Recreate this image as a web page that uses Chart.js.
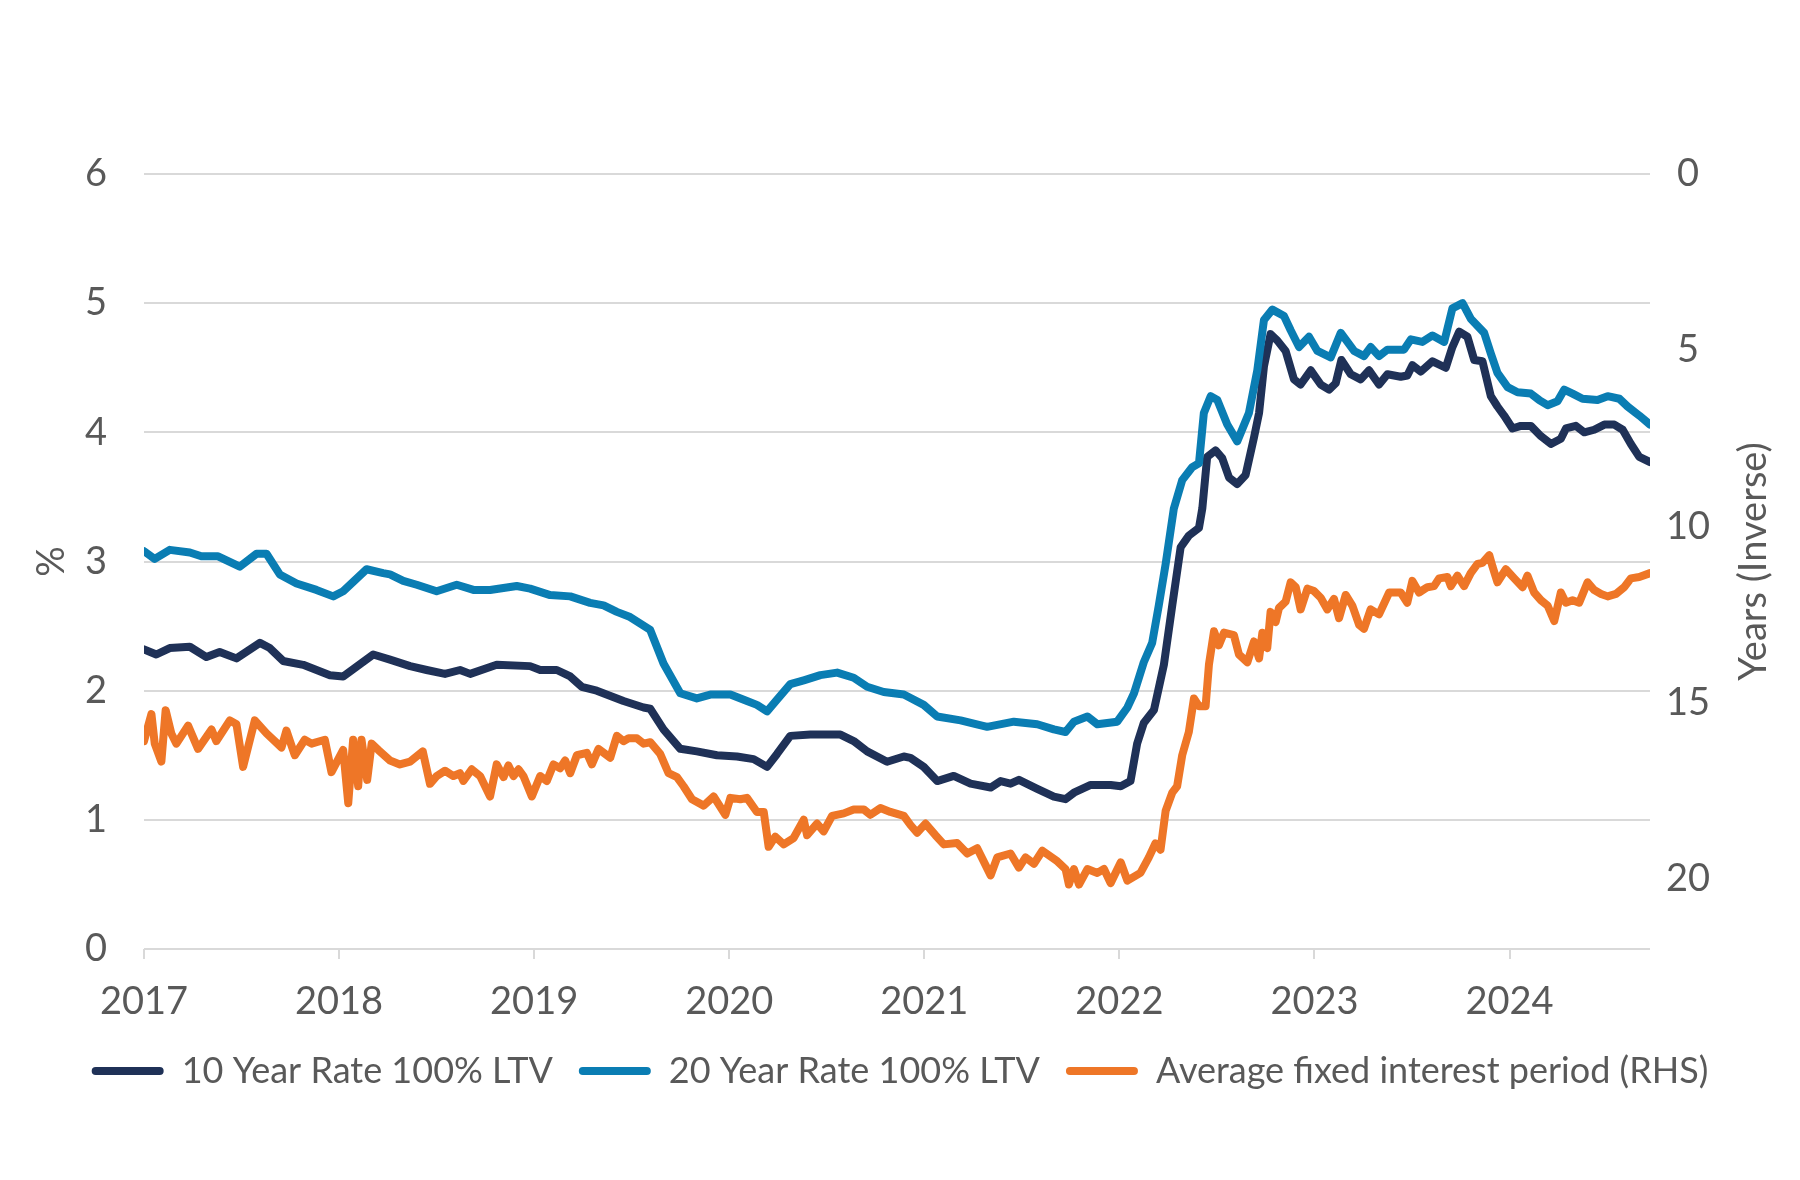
<!DOCTYPE html>
<html lang="en">
<head>
<meta charset="utf-8">
<title>Mortgage rates vs average fixed interest period</title>
<script src="https://cdn.jsdelivr.net/npm/chart.js@4.4.1/dist/chart.umd.min.js"></script>
<style>
  * { margin: 0; padding: 0; box-sizing: border-box; }
  body { width: 1800px; height: 1180px; background: #fff; overflow: hidden; }
  .wrap { position: relative; width: 1800px; height: 1180px; }
</style>
</head>
<body>
<div class="wrap"><canvas id="chart"></canvas></div>
<script>
// dates are decimal years
const navyDates = [2017.00, 2017.063, 2017.132, 2017.235, 2017.320, 2017.388, 2017.474, 2017.594, 2017.645, 2017.713, 2017.816, 2017.953, 2018.021, 2018.175,
  2018.261, 2018.364, 2018.449, 2018.543, 2018.620, 2018.672, 2018.808, 2018.979, 2019.031, 2019.116, 2019.185, 2019.244, 2019.321, 2019.458, 2019.561,
  2019.595, 2019.663, 2019.749, 2019.834, 2019.937, 2020.040, 2020.125, 2020.194, 2020.245, 2020.313, 2020.416, 2020.570, 2020.638, 2020.707, 2020.809, 2020.895,
  2020.929, 2020.997, 2021.066, 2021.151, 2021.237, 2021.340, 2021.391, 2021.442, 2021.485, 2021.579, 2021.664, 2021.724, 2021.767, 2021.853, 2021.955, 2022.007,
  2022.057, 2022.091, 2022.125, 2022.177, 2022.228, 2022.271, 2022.314, 2022.356, 2022.408, 2022.425, 2022.450, 2022.493, 2022.527, 2022.562, 2022.604, 2022.647,
  2022.690, 2022.716, 2022.741, 2022.775, 2022.810, 2022.852, 2022.895, 2022.929, 2022.981, 2023.032, 2023.075, 2023.109, 2023.138, 2023.186, 2023.237, 2023.280,
  2023.331, 2023.374, 2023.442, 2023.476, 2023.502, 2023.545, 2023.605, 2023.673, 2023.707, 2023.742, 2023.784, 2023.819, 2023.861, 2023.904, 2023.938, 2023.972,
  2024.015, 2024.058, 2024.109, 2024.161, 2024.212, 2024.263, 2024.289, 2024.340, 2024.383, 2024.434, 2024.486, 2024.537, 2024.580, 2024.622, 2024.665, 2024.72];
const navyRates = [2.32, 2.28, 2.33, 2.34, 2.26, 2.30, 2.25, 2.37, 2.33, 2.23, 2.20, 2.12, 2.11, 2.28,
  2.24, 2.19, 2.16, 2.13, 2.16, 2.13, 2.20, 2.19, 2.16, 2.16, 2.11, 2.03, 2.00, 1.92, 1.87,
  1.86, 1.70, 1.55, 1.53, 1.50, 1.49, 1.47, 1.41, 1.51, 1.65, 1.66, 1.66, 1.61, 1.53, 1.45, 1.49,
  1.48, 1.41, 1.30, 1.34, 1.28, 1.25, 1.30, 1.28, 1.31, 1.24, 1.18, 1.16, 1.21, 1.27, 1.27, 1.26,
  1.30, 1.59, 1.75, 1.85, 2.20, 2.66, 3.11, 3.20, 3.26, 3.41, 3.81, 3.86, 3.80, 3.65, 3.60, 3.67,
  3.96, 4.15, 4.51, 4.76, 4.71, 4.63, 4.41, 4.37, 4.48, 4.37, 4.33, 4.38, 4.56, 4.45, 4.41, 4.48,
  4.37, 4.45, 4.43, 4.44, 4.52, 4.47, 4.55, 4.50, 4.66, 4.78, 4.74, 4.56, 4.55, 4.28, 4.20, 4.13,
  4.03, 4.05, 4.05, 3.97, 3.91, 3.95, 4.03, 4.05, 4.00, 4.02, 4.06, 4.06, 4.02, 3.91, 3.81, 3.77];

const blueDates = [2017.00, 2017.055, 2017.132, 2017.235, 2017.294, 2017.380, 2017.491, 2017.577, 2017.628, 2017.696, 2017.782, 2017.884, 2017.970, 2018.021, 2018.141, 2018.226,
  2018.261, 2018.329, 2018.398, 2018.500, 2018.603, 2018.689, 2018.774, 2018.911, 2018.979, 2019.082, 2019.185, 2019.287, 2019.356, 2019.424, 2019.492,
  2019.595, 2019.663, 2019.749, 2019.834, 2019.903, 2020.006, 2020.091, 2020.142, 2020.194, 2020.245, 2020.313, 2020.382, 2020.467, 2020.553, 2020.638, 2020.707, 2020.792, 2020.895,
  2020.997, 2021.066, 2021.186, 2021.322, 2021.459, 2021.579, 2021.664, 2021.724, 2021.767, 2021.836, 2021.887, 2021.989, 2022.041,
  2022.075, 2022.125, 2022.168, 2022.202, 2022.237, 2022.279, 2022.322, 2022.373, 2022.408, 2022.433, 2022.468, 2022.502, 2022.553, 2022.604, 2022.664, 2022.707,
  2022.741, 2022.784, 2022.844, 2022.878, 2022.921, 2022.972, 2023.015, 2023.083, 2023.135, 2023.203, 2023.254, 2023.288, 2023.331, 2023.374,
  2023.459, 2023.494, 2023.553, 2023.605, 2023.665, 2023.707, 2023.759, 2023.801, 2023.870, 2023.904, 2023.938, 2023.990, 2024.041, 2024.109, 2024.152,
  2024.195, 2024.246, 2024.280, 2024.323, 2024.374, 2024.451, 2024.503, 2024.563, 2024.605, 2024.665, 2024.72];
const blueRates = [3.08, 3.02, 3.09, 3.07, 3.04, 3.04, 2.96, 3.06, 3.06, 2.90, 2.83, 2.78, 2.73, 2.77, 2.94, 2.91,
  2.90, 2.85, 2.82, 2.77, 2.82, 2.78, 2.78, 2.81, 2.79, 2.74, 2.73, 2.68, 2.66, 2.61, 2.57,
  2.47, 2.21, 1.98, 1.94, 1.97, 1.97, 1.92, 1.89, 1.84, 1.93, 2.05, 2.08, 2.12, 2.14, 2.10, 2.03, 1.99, 1.97,
  1.89, 1.80, 1.77, 1.72, 1.76, 1.74, 1.70, 1.68, 1.76, 1.80, 1.74, 1.76, 1.87,
  1.98, 2.22, 2.37, 2.66, 2.98, 3.41, 3.63, 3.73, 3.76, 4.15, 4.28, 4.25, 4.06, 3.93, 4.15, 4.48,
  4.87, 4.95, 4.90, 4.79, 4.66, 4.74, 4.63, 4.58, 4.77, 4.63, 4.59, 4.66, 4.59, 4.64,
  4.64, 4.72, 4.70, 4.75, 4.70, 4.96, 5.00, 4.88, 4.77, 4.61, 4.46, 4.35, 4.31, 4.30, 4.25,
  4.21, 4.24, 4.33, 4.30, 4.26, 4.25, 4.28, 4.26, 4.20, 4.13, 4.06];

const fixDates = [2017.00, 2017.038, 2017.055, 2017.089, 2017.111, 2017.140, 2017.166, 2017.226, 2017.277, 2017.346, 2017.371, 2017.440, 2017.474, 2017.508, 2017.568, 2017.628,
  2017.705, 2017.730, 2017.773, 2017.824, 2017.859, 2017.927, 2017.961, 2018.021, 2018.047, 2018.072, 2018.098, 2018.115, 2018.144, 2018.167, 2018.201,
  2018.261, 2018.312, 2018.364, 2018.429, 2018.466, 2018.500, 2018.543, 2018.586, 2018.620, 2018.637, 2018.680, 2018.723, 2018.774, 2018.808, 2018.843, 2018.868,
  2018.894, 2018.920, 2018.945, 2018.988, 2019.031, 2019.065, 2019.099, 2019.133, 2019.159, 2019.185, 2019.219, 2019.270, 2019.296, 2019.330, 2019.356, 2019.390,
  2019.424, 2019.458, 2019.484, 2019.527, 2019.561,
  2019.595, 2019.646, 2019.689, 2019.732, 2019.766, 2019.809, 2019.869, 2019.920, 2019.980, 2020.006, 2020.057, 2020.091, 2020.142, 2020.177, 2020.202, 2020.236,
  2020.279, 2020.330, 2020.382, 2020.399, 2020.450, 2020.484, 2020.527, 2020.587, 2020.638, 2020.690, 2020.724, 2020.775, 2020.826, 2020.895,
  2020.929, 2020.963, 2021.006, 2021.057, 2021.100, 2021.168, 2021.220, 2021.271, 2021.340, 2021.374, 2021.442, 2021.485, 2021.519, 2021.562, 2021.605, 2021.682,
  2021.724, 2021.741, 2021.767, 2021.793, 2021.836, 2021.887, 2021.921, 2021.955, 2022.007, 2022.041,
  2022.108, 2022.151, 2022.185, 2022.211, 2022.237, 2022.271, 2022.296, 2022.322, 2022.356, 2022.382, 2022.408, 2022.442, 2022.459, 2022.485, 2022.510, 2022.536,
  2022.587, 2022.613, 2022.656, 2022.690, 2022.716, 2022.733, 2022.758, 2022.775, 2022.801, 2022.818, 2022.852, 2022.878, 2022.904, 2022.929, 2022.964, 2022.998,
  2023.032, 2023.066, 2023.100, 2023.126, 2023.160, 2023.194, 2023.229, 2023.254, 2023.288, 2023.331, 2023.383,
  2023.442, 2023.476, 2023.502, 2023.536, 2023.579, 2023.613, 2023.639, 2023.682, 2023.699, 2023.733, 2023.767, 2023.801, 2023.836, 2023.861, 2023.896, 2023.913,
  2023.938, 2023.981, 2024.024, 2024.067, 2024.092, 2024.126, 2024.161, 2024.195, 2024.229, 2024.263, 2024.289, 2024.323, 2024.357, 2024.400, 2024.434, 2024.469,
  2024.503, 2024.546, 2024.588, 2024.622, 2024.665, 2024.72];
const fixYears = [16.10, 15.33, 16.17, 16.68, 15.22, 15.88, 16.17, 15.66, 16.32, 15.77, 16.10, 15.51, 15.62, 16.83, 15.51, 15.88,
  16.28, 15.80, 16.50, 16.06, 16.17, 16.06, 16.98, 16.35, 17.86, 16.06, 17.38, 16.06, 17.20, 16.17, 16.35,
  16.65, 16.76, 16.68, 16.39, 17.31, 17.09, 16.94, 17.09, 17.01, 17.23, 16.90, 17.09, 17.67, 16.76, 17.12, 16.79,
  17.09, 16.90, 17.09, 17.67, 17.09, 17.23, 16.76, 16.87, 16.65, 17.01, 16.50, 16.43, 16.76, 16.32, 16.43, 16.57,
  15.95, 16.10, 16.02, 16.02, 16.17,
  16.13, 16.46, 17.01, 17.12, 17.38, 17.75, 17.93, 17.67, 18.19, 17.71, 17.75, 17.71, 18.11, 18.11, 19.10, 18.81,
  19.03, 18.85, 18.33, 18.77, 18.44, 18.66, 18.22, 18.15, 18.04, 18.04, 18.19, 18.00, 18.11, 18.22,
  18.48, 18.70, 18.44, 18.77, 19.03, 18.99, 19.29, 19.14, 19.91, 19.40, 19.29, 19.69, 19.40, 19.58, 19.21, 19.51,
  19.73, 20.17, 19.73, 20.17, 19.73, 19.84, 19.73, 20.13, 19.54, 20.06,
  19.84, 19.40, 19.00, 19.18, 18.08, 17.56, 17.38, 16.50, 15.84, 14.89, 15.11, 15.11, 13.93, 12.98, 13.38, 13.02,
  13.09, 13.64, 13.86, 13.27, 13.75, 13.02, 13.46, 12.43, 12.72, 12.32, 12.14, 11.59, 11.73, 12.36, 11.77, 11.84,
  12.03, 12.36, 12.06, 12.61, 11.95, 12.25, 12.80, 12.91, 12.36, 12.50, 11.88,
  11.88, 12.17, 11.55, 11.88, 11.73, 11.70, 11.48, 11.44, 11.70, 11.40, 11.70, 11.33, 11.07, 11.04, 10.82, 11.15,
  11.59, 11.22, 11.48, 11.73, 11.40, 11.88, 12.10, 12.25, 12.69, 11.88, 12.17, 12.10, 12.17, 11.59, 11.81, 11.92,
  11.99, 11.92, 11.73, 11.48, 11.44, 11.33];

const seriesNames = ['10 Year Rate 100% LTV', '20 Year Rate 100% LTV', 'Average fixed interest period (RHS)'];
const yearTicks = [2017, 2018, 2019, 2020, 2021, 2022, 2023, 2024];
const rateTicks = [0, 1, 2, 3, 4, 5, 6];
const periodTicks = [0, 5, 10, 15, 20];

const FONT = 'Lato, "Open Sans", sans-serif';
const FS = 38;      // axis text
const LFS = 36;     // legend text
const TEXT = '#595959';
const GRID = '#d9d9d9';
const NAVY = '#1f3157';
const BLUE = '#0a7db3';
const ORANGE = '#ee7627';

const pts = (xs, ys) => xs.map((x, i) => ({ x: x, y: ys[i] }));

const lineStyle = (color) => ({
  borderColor: color,
  backgroundColor: color,
  borderWidth: 8,
  pointRadius: 0,
  tension: 0,
  borderJoinStyle: 'round',
  borderCapStyle: 'round',
  fill: false,
});

// titles drawn by hand so the right one reads bottom to top like the original
const axisTitles = {
  id: 'axisTitles',
  afterDraw(chart) {
    const { ctx, chartArea } = chart;
    const mid = (chartArea.top + chartArea.bottom) / 2;
    ctx.save();
    ctx.fillStyle = TEXT;
    ctx.font = FS + 'px ' + FONT;
    ctx.textAlign = 'center';
    ctx.textBaseline = 'middle';
    [[52, '%'], [1754, 'Years (Inverse)']].forEach(([x, t]) => {
      ctx.save();
      ctx.translate(x, mid);
      ctx.rotate(-Math.PI / 2);
      ctx.fillText(t, 0, 0);
      ctx.restore();
    });
    ctx.restore();
  }
};

new Chart(document.getElementById('chart'), {
  type: 'line',
  plugins: [axisTitles],
  data: {
    datasets: [
      Object.assign({ label: seriesNames[0], data: pts(navyDates, navyRates), yAxisID: 'y', order: 3 }, lineStyle(NAVY)),
      Object.assign({ label: seriesNames[1], data: pts(blueDates, blueRates), yAxisID: 'y', order: 2 }, lineStyle(BLUE)),
      Object.assign({ label: seriesNames[2], data: pts(fixDates, fixYears), yAxisID: 'y2', order: 1 }, lineStyle(ORANGE)),
    ],
  },
  options: {
    responsive: true,
    maintainAspectRatio: false,
    devicePixelRatio: 1,
    animation: false,
    layout: { padding: { top: 174, left: 0, right: 0, bottom: 81 } },
    plugins: {
      tooltip: { enabled: false },
      legend: {
        position: 'bottom',
        labels: {
          color: TEXT,
          font: { family: FONT, size: LFS },
          boxWidth: 72,
          boxHeight: 8,
          padding: 26,
          useBorderRadius: true,
          borderRadius: 4,
          sort: (a, b) => a.datasetIndex - b.datasetIndex,
          generateLabels: (chart) =>
            Chart.defaults.plugins.legend.labels.generateLabels(chart).map(l => Object.assign(l, { lineWidth: 0 })),
        },
      },
    },
    scales: {
      x: {
        type: 'linear',
        min: 2017,
        max: 2024.72,
        afterBuildTicks: (scale) => { scale.ticks = yearTicks.map(v => ({ value: v })); },
        afterFit: (scale) => { scale.height = 78; },
        ticks: {
          color: TEXT,
          font: { family: FONT, size: FS },
          padding: 20,
          maxRotation: 0,
          autoSkip: false,
          callback: (v) => String(v),
        },
        grid: { drawOnChartArea: false, drawTicks: true, tickLength: 10, color: GRID, lineWidth: 2 },
        border: { display: false },
      },
      y: {
        position: 'left',
        min: 0,
        max: 6,
        afterBuildTicks: (scale) => { scale.ticks = rateTicks.map(v => ({ value: v })); },
        afterFit: (scale) => { scale.width = 144; },
        ticks: { color: TEXT, font: { family: FONT, size: FS }, padding: 37 },
        grid: { color: GRID, lineWidth: 2, drawTicks: false },
        border: { display: false },
      },
      y2: {
        position: 'right',
        reverse: true,
        min: 0,
        max: 22,
        afterBuildTicks: (scale) => { scale.ticks = periodTicks.map(v => ({ value: v })); },
        afterFit: (scale) => { scale.width = 150; },
        ticks: { color: TEXT, font: { family: FONT, size: FS }, padding: 16, crossAlign: 'center' },
        grid: { display: false, drawTicks: false },
        border: { display: false },
      },
    },
  },
});
</script>
</body>
</html>
